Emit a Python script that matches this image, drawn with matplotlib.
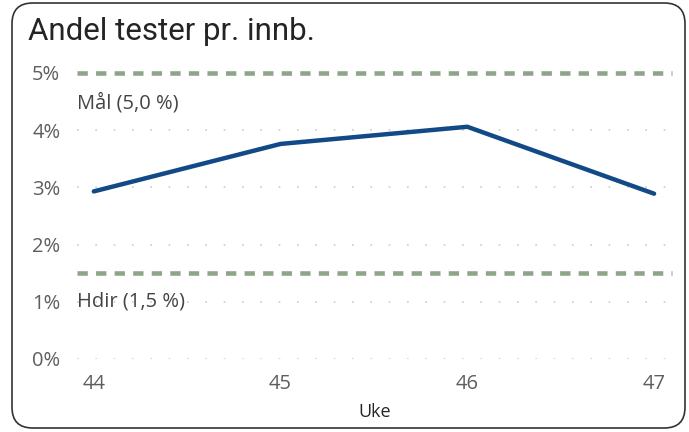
import matplotlib
matplotlib.use("Agg")
import matplotlib.pyplot as plt
from matplotlib.patches import FancyBboxPatch

weeks = [44, 45, 46, 47]
share = [2.93, 3.76, 4.06, 2.89]  # percent
target = 5.0
hdir = 1.5
yticks = [0, 1, 2, 3, 4, 5]

plt.rcParams['font.family'] = ['Open Sans', 'DejaVu Sans']

fig = plt.figure(figsize=(6.89, 4.32), dpi=100)
fig.patch.set_facecolor('white')

# rounded card border, behind the axes
card = FancyBboxPatch((12 / 689, 4 / 432), 673 / 689, 425 / 432,
                      boxstyle="round,pad=0,rounding_size=0.03",
                      transform=fig.transFigure, facecolor='white',
                      edgecolor='#333333', linewidth=1.2, mutation_aspect=689 / 432,
                      zorder=-10)
fig.patches.append(card)

ax = fig.add_axes([77 / 689, 1 - 359 / 432, 595 / 689, 286 / 432])
ax.set_facecolor('none')

ax.set_xlim(43.91, 47.096)
ax.set_ylim(0, 5)

for y in yticks[:-1]:
    ax.axhline(y, color='#cccccc', linestyle=(0, (1, 10)), linewidth=1.2, zorder=1)

dash_col = '#8fa58a'
ax.axhline(target, color=dash_col, linestyle=(0, (2.25, 1.8)), linewidth=3.3,
           clip_on=False, zorder=2)
ax.axhline(hdir, color=dash_col, linestyle=(0, (2.25, 1.8)), linewidth=3.3,
           clip_on=False, zorder=2)

ax.plot(weeks, share, color='#114a86', linewidth=3.2, solid_capstyle='round',
        solid_joinstyle='round', clip_on=False, zorder=3)

ax.text(43.91, target - 0.52, "Mål (5,0 %)", fontsize=14.5, color='#444444',
        va='center', ha='left')
ax.text(43.91, 1.0, "Hdir (1,5 %)", fontsize=14.5, color='#444444',
        va='center', ha='left')

ax.set_yticks(yticks)
ax.set_yticklabels([f"{v}%" for v in yticks])
ax.set_xticks(weeks)
ax.set_xticklabels([str(w) for w in weeks])
ax.tick_params(axis='both', length=0, labelsize=14.5, labelcolor='#605e5c')
ax.tick_params(axis='y', pad=12)
ax.tick_params(axis='x', pad=11)
for s in ax.spines.values():
    s.set_visible(False)

fig.text(374.5 / 689, 1 - 412 / 432, "Uke", fontsize=13, color='#252423',
         va='center', ha='center', fontweight='medium')

fig.text(28 / 689, 1 - 32 / 432, "Andel tester pr. innb.", fontsize=22.5,
         color='#252423', va='center', ha='left',
         family=['Roboto', 'DejaVu Sans'])

fig.savefig("out.png", dpi=100)
